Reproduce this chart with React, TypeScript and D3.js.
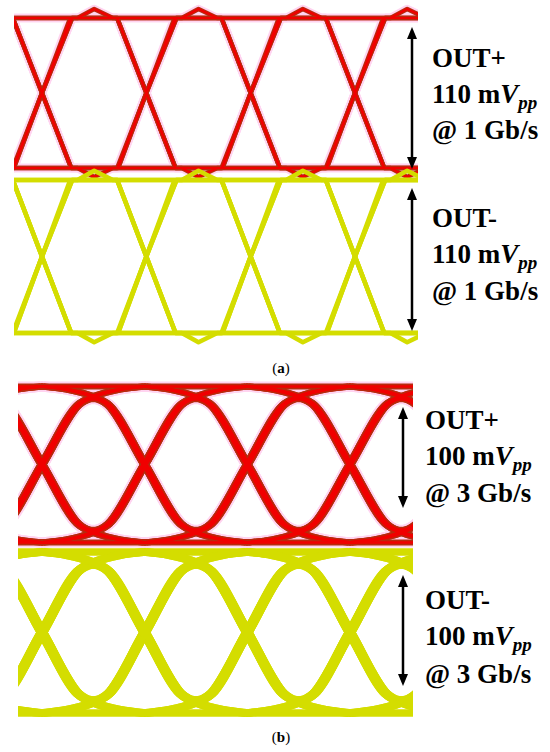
import React, { useRef, useEffect } from "react";
import * as d3 from "d3";

// edge shapes read off the scope captures: [time in UI from the crossing, level 0..1]
// (a) 1 Gb/s: almost straight edges, small over/undershoot on isolated bits
const riseA = [[-1, 0], [-0.27, 0], [0, 0.5], [0.29, 1], [1, 1]];
const fallA = [[-1, 1], [-0.28, 1], [0, 0.5], [0.28, 0], [1, 0]];
const pulseHighA = [[-0.27, 0], [0, 0.5], [0.29, 1], [0.34, 1], [0.5, 1.06], [0.68, 1], [0.72, 1], [1, 0.5], [1.28, 0]];
const pulseLowA = [[-0.28, 1], [0, 0.5], [0.28, 0], [0.34, 0], [0.5, -0.06], [0.68, 0], [0.72, 0], [1, 0.5], [1.27, 1]];

// (b) 3 Gb/s: fast part through the crossing, then a slow tail to the rail
const riseB = [[-1, 0], [-0.75, 0.02], [-0.52, 0.06], [-0.35, 0.12], [0, 0.5], [0.35, 0.88], [0.52, 0.94], [0.75, 0.98], [1, 1]];
const fallB = [[-1, 1], [-0.75, 0.98], [-0.52, 0.94], [-0.35, 0.88], [0, 0.5], [0.35, 0.12], [0.52, 0.06], [0.75, 0.02], [1, 0]];
const pulseHighB = [[-1, 0], [-0.75, 0.02], [-0.52, 0.06], [-0.35, 0.12], [0, 0.5], [0.35, 0.88], [0.5, 0.92], [0.65, 0.88], [1, 0.5], [1.35, 0.12], [1.52, 0.06], [1.75, 0.02], [2, 0]];
const pulseLowB = [[-1, 1], [-0.75, 0.98], [-0.52, 0.94], [-0.35, 0.88], [0, 0.5], [0.35, 0.12], [0.5, 0.08], [0.65, 0.12], [1, 0.5], [1.35, 0.88], [1.52, 0.94], [1.75, 0.98], [2, 1]];

const railHigh = [[-2, 1], [5, 1]];
const railLow = [[-2, 0], [5, 0]];

// crossings where edges start (0..3 are visible)
const edgeSlots = [-2, -1, 0, 1, 2, 3, 4];

const signals = ["OUT+", "OUT-"];
const swings = ["110", "100"];
const rates = ["1", "3"];
const captions = ["a", "b"];

const serif = "'Liberation Serif', 'Times New Roman', serif";

const App = () => {
  const ref = useRef(null);

  useEffect(() => {
    const svg = d3.select(ref.current);
    svg.selectAll("*").remove();

    const panels = [
      {
        shapes: [riseA, fallA, pulseHighA, pulseLowA],
        xRange: [42, 355], clip: [14, 418], widths: [4.5, 4.5], jitter: [0],
        curve: d3.curveLinear,
        rows: [{ y: [168, 18] }, { y: [333, 180] }],
        arrowX: 412, arrows: [[27, 169], [188, 331]],
        textX: 432, baselines: [[67, 103, 139], [227, 263, 300]],
        captionY: 373,
      },
      {
        shapes: [riseB, fallB, pulseHighB, pulseLowB],
        xRange: [42, 350], clip: [18, 413], widths: [6, 7.5], jitter: [-0.015, 0.015],
        curve: d3.curveCatmullRom.alpha(0.5),
        rows: [{ y: [542.5, 386.5] }, { y: [713, 552] }],
        arrowX: 403, arrows: [[407, 508], [575, 686]],
        textX: 425, baselines: [[429, 465, 502], [609, 645, 683]],
        captionY: 742,
      },
    ];

    const defs = svg.append("defs");

    panels.forEach((p, pi) => {
      const x = d3.scaleLinear().domain([0, 3]).range(p.xRange);

      defs.append("clipPath").attr("id", `clip-${pi}`)
        .append("rect")
        .attr("x", p.clip[0]).attr("y", 0)
        .attr("width", p.clip[1] - p.clip[0]).attr("height", 752);

      p.rows.forEach((row, ri) => {
        const y = d3.scaleLinear().domain([0, 1]).range(row.y);
        const traces = [railHigh, railLow];
        edgeSlots.forEach(k => {
          p.shapes.forEach(s => {
            p.jitter.forEach(j => traces.push(s.map(([t, v]) => [t + k + j, v])));
          });
        });

        const line = d3.line()
          .x(d => x(d[0]))
          .y(d => y(d[1]))
          .curve(p.curve);

        const w = p.widths[ri];
        const g = svg.append("g").attr("clip-path", `url(#clip-${pi})`);
        const layers = ri === 0
          ? [["#ffd4f0", w + 4], ["#b82a0e", w], ["#f00000", w * 0.45]]
          : [["#d4dd00", w]];

        layers.forEach(([color, sw]) => {
          g.append("g")
            .selectAll("path")
            .data(traces)
            .join("path")
            .attr("d", d => line(d))
            .attr("fill", "none")
            .attr("stroke", color)
            .attr("stroke-width", sw)
            .attr("stroke-linejoin", "round");
        });

        // double arrow for the swing
        const [a0, a1] = p.arrows[ri];
        const ax = p.arrowX;
        svg.append("line")
          .attr("x1", ax).attr("x2", ax)
          .attr("y1", a0 + 8).attr("y2", a1 - 8)
          .attr("stroke", "#000").attr("stroke-width", 2.5);
        svg.append("path")
          .attr("d", `M${ax},${a0} L${ax - 5},${a0 + 12} L${ax + 5},${a0 + 12} Z`)
          .attr("fill", "#000");
        svg.append("path")
          .attr("d", `M${ax},${a1} L${ax - 5},${a1 - 12} L${ax + 5},${a1 - 12} Z`)
          .attr("fill", "#000");

        // label
        const [b0, b1, b2] = p.baselines[ri];
        const t = svg.append("g")
          .style("font-family", serif)
          .style("font-weight", "bold")
          .style("font-size", "27px")
          .attr("fill", "#000");
        t.append("text").attr("x", p.textX).attr("y", b0).text(signals[ri]);
        const mid = t.append("text").attr("x", p.textX).attr("y", b1);
        mid.append("tspan").text(`${swings[pi]} m`);
        mid.append("tspan").style("font-style", "italic").text("V");
        mid.append("tspan").style("font-style", "italic").style("font-size", "19px").attr("dy", 6).text("pp");
        t.append("text").attr("x", p.textX).attr("y", b2).text(`@ ${rates[pi]} Gb/s`);
      });

      const cap = svg.append("text")
        .attr("x", 281).attr("y", p.captionY)
        .attr("text-anchor", "middle")
        .style("font-family", serif)
        .style("font-size", "15px")
        .attr("fill", "#000");
      cap.append("tspan").text("(");
      cap.append("tspan").style("font-weight", "bold").text(captions[pi]);
      cap.append("tspan").text(")");
    });
  }, []);

  return (
    <svg
      ref={ref}
      width={550}
      height={752}
      style={{ position: "absolute", left: 0, top: 0, background: "#fff" }}
    />
  );
};

export default App;
